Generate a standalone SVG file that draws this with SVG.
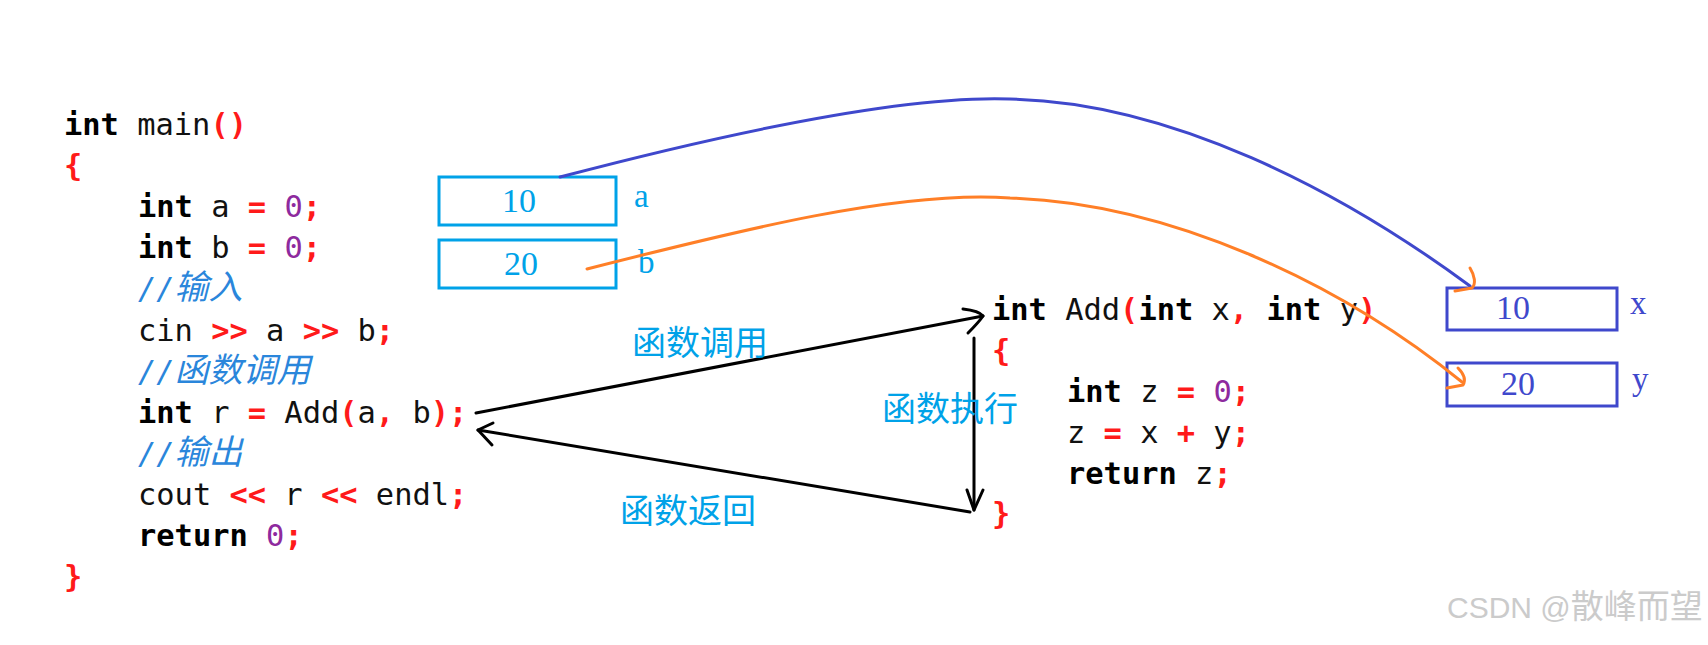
<svg xmlns="http://www.w3.org/2000/svg" width="1708" height="645" viewBox="0 0 1708 645">
<style>
.code{font-family:"DejaVu Sans Mono","Liberation Mono","Noto Sans CJK SC",monospace;font-size:30.4px;fill:#111}
.k{font-weight:bold;fill:#000}
.o{font-weight:bold;fill:#ff1a1a}
.n{fill:#8e2a9e}
.c{fill:#2a86db;font-style:italic}
.cj{font-family:"Noto Sans CJK SC",sans-serif;font-size:34px}
.boxA{fill:none;stroke:#00a2e8;stroke-width:3}
.boxX{fill:none;stroke:#3f48cc;stroke-width:3}
.valA{font-family:"Liberation Serif",serif;font-size:34px;fill:#00a2e8;text-anchor:middle}
.valX{font-family:"Liberation Serif",serif;font-size:34px;fill:#3f48cc;text-anchor:middle}
.nmA{font-family:"Liberation Serif",serif;font-size:33px;fill:#00a2e8}
.nmX{font-family:"Liberation Serif",serif;font-size:33px;fill:#3f48cc}
.lbl{font-family:"Noto Sans CJK SC",sans-serif;font-size:34px;fill:#00a2e8}
.blk{fill:none;stroke:#000;stroke-width:3;stroke-linecap:round;stroke-linejoin:round}
.blue{fill:none;stroke:#3f48cc;stroke-width:3;stroke-linecap:round}
.orange{fill:none;stroke:#ff7f27;stroke-width:3;stroke-linecap:round;stroke-linejoin:round}
.wm{font-family:"Liberation Sans","Noto Sans CJK SC",sans-serif;font-size:30px;fill:#cbcbcb}
</style>
<rect width="1708" height="645" fill="#fff"/>

<g id="main-code" class="code" xml:space="preserve">
<text x="64" y="135"><tspan class="k">int</tspan> main<tspan class="o">()</tspan></text>
<text x="64" y="176"><tspan class="o">{</tspan></text>
<text x="138" y="217"><tspan class="k">int</tspan> a <tspan class="o">=</tspan> <tspan class="n">0</tspan><tspan class="o">;</tspan></text>
<text x="138" y="258"><tspan class="k">int</tspan> b <tspan class="o">=</tspan> <tspan class="n">0</tspan><tspan class="o">;</tspan></text>
<text x="138" y="299" class="c">//<tspan class="cj">输入</tspan></text>
<text x="138" y="341">cin <tspan class="o">&gt;&gt;</tspan> a <tspan class="o">&gt;&gt;</tspan> b<tspan class="o">;</tspan></text>
<text x="138" y="382" class="c">//<tspan class="cj">函数调用</tspan></text>
<text x="138" y="423"><tspan class="k">int</tspan> r <tspan class="o">=</tspan> Add<tspan class="o">(</tspan>a<tspan class="o">,</tspan> b<tspan class="o">);</tspan></text>
<text x="138" y="464" class="c">//<tspan class="cj">输出</tspan></text>
<text x="138" y="505">cout <tspan class="o">&lt;&lt;</tspan> r <tspan class="o">&lt;&lt;</tspan> endl<tspan class="o">;</tspan></text>
<text x="138" y="546"><tspan class="k">return</tspan> <tspan class="n">0</tspan><tspan class="o">;</tspan></text>
<text x="64" y="587"><tspan class="o">}</tspan></text>
</g>

<g id="add-code" class="code" xml:space="preserve">
<text x="992" y="320"><tspan class="k">int</tspan> Add<tspan class="o">(</tspan><tspan class="k">int</tspan> x<tspan class="o">,</tspan> <tspan class="k">int</tspan> y<tspan class="o">)</tspan></text>
<text x="992" y="361"><tspan class="o">{</tspan></text>
<text x="1067" y="402"><tspan class="k">int</tspan> z <tspan class="o">=</tspan> <tspan class="n">0</tspan><tspan class="o">;</tspan></text>
<text x="1067" y="443">z <tspan class="o">=</tspan> x <tspan class="o">+</tspan> y<tspan class="o">;</tspan></text>
<text x="1067" y="484"><tspan class="k">return</tspan> z<tspan class="o">;</tspan></text>
<text x="992" y="524"><tspan class="o">}</tspan></text>
</g>

<g id="box-a">
<rect class="boxA" x="439" y="177" width="177" height="48"/>
<text class="valA" x="519" y="212">10</text>
<text class="nmA" x="634" y="207">a</text>
</g>
<g id="box-b">
<rect class="boxA" x="439" y="240" width="177" height="48"/>
<text class="valA" x="521" y="275">20</text>
<text class="nmA" x="638" y="273">b</text>
</g>
<g id="box-x">
<rect class="boxX" x="1447" y="288" width="170" height="42"/>
<text class="valX" x="1513" y="319">10</text>
<text class="nmX" x="1630" y="314">x</text>
</g>
<g id="box-y">
<rect class="boxX" x="1447" y="363" width="170" height="43"/>
<text class="valX" x="1518" y="395">20</text>
<text class="nmX" x="1632" y="390">y</text>
</g>

<g id="connectors">
<path class="blue" d="M560,177 C720,135 900,95 1010,99 C1170,102 1340,190 1470,286"/>
<path class="orange" d="M587,269 C740,230 900,190 1010,198 C1170,203 1340,283 1462,382"/>
<path class="orange" d="M1470,268 C1475,276 1476,284 1472,288 L1455,291"/>
<path class="orange" d="M1458,368 C1464,374 1466,380 1463,385 L1447,388"/>
<path class="blk" d="M476,413 L983,316"/>
<path class="blk" d="M963,309 C972,310 980,312 983,316 C979,322 973,328 968,333"/>
<path class="blk" d="M974,338 L974,510"/>
<path class="blk" d="M967,490 L974,510 L983,490"/>
<path class="blk" d="M970,512 L478,430"/>
<path class="blk" d="M493,423 L478,430 L492,445"/>
</g>

<g id="labels">
<text class="lbl" x="632" y="355">函数调用</text>
<text class="lbl" x="882" y="421">函数执行</text>
<text class="lbl" x="620" y="523">函数返回</text>
</g>

<g id="watermark">
<text class="wm" x="1447" y="618">CSDN @<tspan font-size="33">散峰而望</tspan></text>
</g>
</svg>
